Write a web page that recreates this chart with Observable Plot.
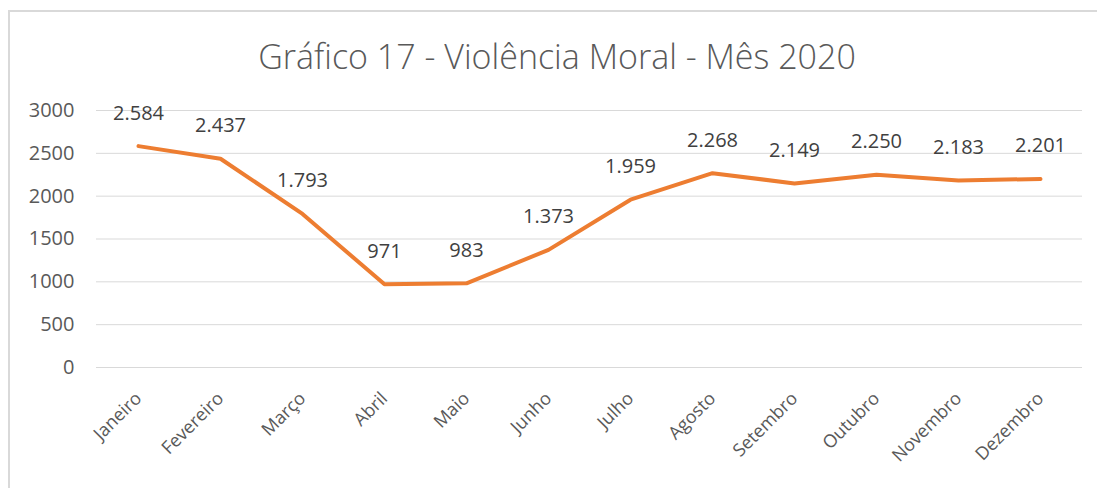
<!DOCTYPE html>
<html>
<head>
<meta charset="utf-8">
<script src="https://cdn.jsdelivr.net/npm/d3@7"></script>
<script src="https://cdn.jsdelivr.net/npm/@observablehq/plot@0.6"></script>
<style>
  html, body { margin: 0; padding: 0; background: #fff; }
  #wrap { position: relative; width: 1097px; height: 488px; overflow: hidden; }
  #frame { position: absolute; left: 8px; top: 10px; width: 1200px; height: 600px; border-left: 2px solid #d9d9d9; border-top: 2px solid #d9d9d9; box-sizing: border-box; }
  #title { position: absolute; left: 0; top: 36px; width: 1114px; text-align: center; font-family: "Open Sans", sans-serif; font-weight: 300; font-size: 34px; color: #595959; line-height: 1.2; }
  #chart { position: absolute; left: 0; top: 90px; }
</style>
</head>
<body>
<div id="wrap">
  <div id="frame"></div>
  <div id="title">Gráfico 17 - Violência Moral - Mês 2020</div>
  <div id="chart"></div>
</div>
<script>
const months = ["Janeiro","Fevereiro","Março","Abril","Maio","Junho","Julho","Agosto","Setembro","Outubro","Novembro","Dezembro"];
const values = [2584, 2437, 1793, 971, 983, 1373, 1959, 2268, 2149, 2250, 2183, 2201];
const yTicks = [0, 500, 1000, 1500, 2000, 2500, 3000];

const data = months.map((m, i) => ({month: m, value: values[i]}));
const fmt = v => d3.format(",")(v).replace(/,/g, ".");

const chart = Plot.plot({
  width: 1097,
  height: 398,
  marginTop: 20,
  marginBottom: 121,
  marginLeft: 96,
  marginRight: 15,
  style: {fontFamily: "Open Sans, sans-serif", background: "transparent"},
  x: {type: "point", domain: months, padding: 0.5, label: null},
  y: {domain: [0, 3000], label: null},
  marks: [
    Plot.gridY(yTicks, {stroke: "#d9d9d9", strokeOpacity: 1, strokeWidth: 1}),
    Plot.axisY(yTicks, {tickSize: 0, tickPadding: 22, fontSize: 20, fill: "#595959", label: null, tickFormat: d => String(d)}),
    Plot.axisX(months, {tickSize: 0, tickRotate: -45, fontSize: 18, fill: "#595959", tickPadding: 28, label: null}),
    Plot.line(data, {x: "month", y: "value", stroke: "#ED7D31", strokeWidth: 4, strokeLinejoin: "round", strokeLinecap: "round"}),
    Plot.text(data, {x: "month", y: "value", text: d => fmt(d.value), dy: -33, fontSize: 20, fill: "#404040"})
  ]
});
document.getElementById("chart").appendChild(chart);
</script>
</body>
</html>
